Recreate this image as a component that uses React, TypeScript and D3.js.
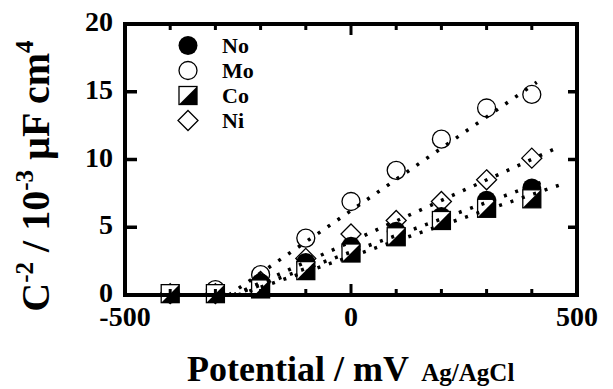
import React, { useEffect, useRef } from "react";
import * as d3 from "d3";

// potentials (mV vs Ag/AgCl) and C^-2 values (10^-3 uF^-2 cm^4)
const potentials = [-400, -300, -200, -100, 0, 100, 200, 300, 400];
const noValues = [0.1, 0.1, 0.9, 2.4, 3.6, 4.7, 5.8, 7.0, 7.9];
const moValues = [0.1, 0.4, 1.5, 4.2, 6.9, 9.2, 11.5, 13.8, 14.8];
const coValues = [0.1, 0.1, 0.45, 1.8, 3.1, 4.3, 5.5, 6.4, 7.1];
const niValues = [0.1, 0.1, 1.0, 2.7, 4.5, 5.5, 6.9, 8.5, 10.1];

// dotted Mott-Schottky fit lines: [x, y] end points
const noFit: [number, number][] = [[-260, 0], [420, 8.3]];
const moFit: [number, number][] = [[-270, 0], [411, 15.7]];
const coFit: [number, number][] = [[-250, 0], [460, 8.1]];
const niFit: [number, number][] = [[-260, 0], [452, 10.8]];

const xMajorTicks = [-500, 0, 500];
const xMinorTicks = [-400, -300, -200, -100, 100, 200, 300, 400];
const yMajorTicks = [0, 5, 10, 15, 20];

const legendNames = ["No", "Mo", "Co", "Ni"];

const FONT = "'Liberation Serif', 'Times New Roman', serif";

export default function App() {
  const ref = useRef<SVGSVGElement>(null);

  useEffect(() => {
    const svg = d3.select(ref.current);
    svg.selectAll("*").remove();

    const left = 125, right = 577, top = 24, bottom = 295;
    const x = d3.scaleLinear().domain([-500, 500]).range([left, right]);
    const y = d3.scaleLinear().domain([0, 20]).range([bottom, top]);

    const g = svg.append("g");

    // markers
    const drawMarker = (sel: any, kind: string, cx: number, cy: number) => {
      if (kind === "No") {
        sel.append("circle").attr("cx", cx).attr("cy", cy).attr("r", 9.5)
          .attr("fill", "#000");
      } else if (kind === "Mo") {
        sel.append("circle").attr("cx", cx).attr("cy", cy).attr("r", 9)
          .attr("fill", "#fff").attr("stroke", "#000").attr("stroke-width", 1.3);
      } else if (kind === "Co") {
        const s = 9;
        sel.append("rect").attr("x", cx - s).attr("y", cy - s)
          .attr("width", 2 * s).attr("height", 2 * s)
          .attr("fill", "#fff").attr("stroke", "#000").attr("stroke-width", 1.3);
        sel.append("path")
          .attr("d", `M${cx - s},${cy + s}L${cx + s},${cy - s}L${cx + s},${cy + s}Z`)
          .attr("fill", "#000");
      } else {
        const s = 10;
        sel.append("path")
          .attr("d", `M${cx},${cy - s}L${cx + s},${cy}L${cx},${cy + s}L${cx - s},${cy}Z`)
          .attr("fill", "#fff").attr("stroke", "#000").attr("stroke-width", 1.3);
      }
    };

    const series: [string, number[]][] = [
      ["Mo", moValues],
      ["Ni", niValues],
      ["No", noValues],
      ["Co", coValues]
    ];
    series.forEach(([kind, vals]) => {
      const sg = g.append("g");
      vals.forEach((v, i) => drawMarker(sg, kind, x(potentials[i]), y(v)));
    });

    // fit lines
    const line = d3.line<[number, number]>()
      .x(d => x(d[0]))
      .y(d => y(d[1]));
    [moFit, niFit, noFit, coFit].forEach(f => {
      g.append("path")
        .attr("d", line(f))
        .attr("fill", "none")
        .attr("stroke", "#000")
        .attr("stroke-width", 3.5)
        .attr("stroke-dasharray", "3,9");
    });

    // frame
    g.append("rect")
      .attr("x", left).attr("y", top)
      .attr("width", right - left).attr("height", bottom - top)
      .attr("fill", "none").attr("stroke", "#000").attr("stroke-width", 4);

    // ticks
    xMajorTicks.forEach(t => {
      g.append("line").attr("x1", x(t)).attr("x2", x(t))
        .attr("y1", bottom).attr("y2", bottom - 11)
        .attr("stroke", "#000").attr("stroke-width", 3);
      g.append("line").attr("x1", x(t)).attr("x2", x(t))
        .attr("y1", top).attr("y2", top + 11)
        .attr("stroke", "#000").attr("stroke-width", 3);
    });
    xMinorTicks.forEach(t => {
      g.append("line").attr("x1", x(t)).attr("x2", x(t))
        .attr("y1", bottom).attr("y2", bottom - 6)
        .attr("stroke", "#000").attr("stroke-width", 3);
      g.append("line").attr("x1", x(t)).attr("x2", x(t))
        .attr("y1", top).attr("y2", top + 6)
        .attr("stroke", "#000").attr("stroke-width", 3);
    });
    yMajorTicks.forEach(t => {
      g.append("line").attr("x1", left).attr("x2", left + 12)
        .attr("y1", y(t)).attr("y2", y(t))
        .attr("stroke", "#000").attr("stroke-width", 3.5);
      g.append("line").attr("x1", right).attr("x2", right - 9)
        .attr("y1", y(t)).attr("y2", y(t))
        .attr("stroke", "#000").attr("stroke-width", 3.5);
    });

    // tick labels
    g.selectAll(".xl")
      .data(xMajorTicks)
      .enter()
      .append("text")
      .attr("x", d => x(d))
      .attr("y", 326)
      .attr("text-anchor", "middle")
      .attr("font-family", FONT)
      .attr("font-weight", "bold")
      .attr("font-size", 28)
      .text(d => String(d));
    g.selectAll(".yl")
      .data(yMajorTicks)
      .enter()
      .append("text")
      .attr("x", 113)
      .attr("y", d => y(d) + 7)
      .attr("text-anchor", "end")
      .attr("font-family", FONT)
      .attr("font-weight", "bold")
      .attr("font-size", 28)
      .text(d => String(d));

    // legend
    legendNames.forEach((name, i) => {
      const ly = 45.5 + i * 25;
      drawMarker(g, name, 188, ly);
      g.append("text")
        .attr("x", 222)
        .attr("y", ly + 7.5)
        .attr("font-family", FONT)
        .attr("font-weight", "bold")
        .attr("font-size", 22)
        .text(name);
    });

    // x title
    const xt = g.append("text")
      .attr("x", 187)
      .attr("y", 381)
      .attr("font-family", FONT)
      .attr("font-weight", "bold")
      .attr("font-size", 36);
    xt.append("tspan").text("Potential / mV ");
    xt.append("tspan").attr("font-size", 25).attr("dx", 4).text("Ag/AgCl");

    // y title
    const yt = g.append("text")
      .attr("transform", "translate(49,176) rotate(-90)")
      .attr("text-anchor", "middle")
      .attr("font-family", FONT)
      .attr("font-weight", "bold")
      .attr("font-size", 40);
    yt.append("tspan").text("C");
    yt.append("tspan").attr("font-size", 25).attr("dy", -16).text("-2");
    yt.append("tspan").attr("dy", 16).text(" / 10");
    yt.append("tspan").attr("font-size", 25).attr("dy", -16).text("-3");
    yt.append("tspan").attr("dy", 16).text(" \u00b5F cm");
    yt.append("tspan").attr("font-size", 25).attr("dy", -16).text("4");
  }, []);

  return (
    <svg
      ref={ref}
      width={613}
      height={389}
      style={{ position: "absolute", left: 0, top: 0, background: "#fff" }}
    />
  );
}
